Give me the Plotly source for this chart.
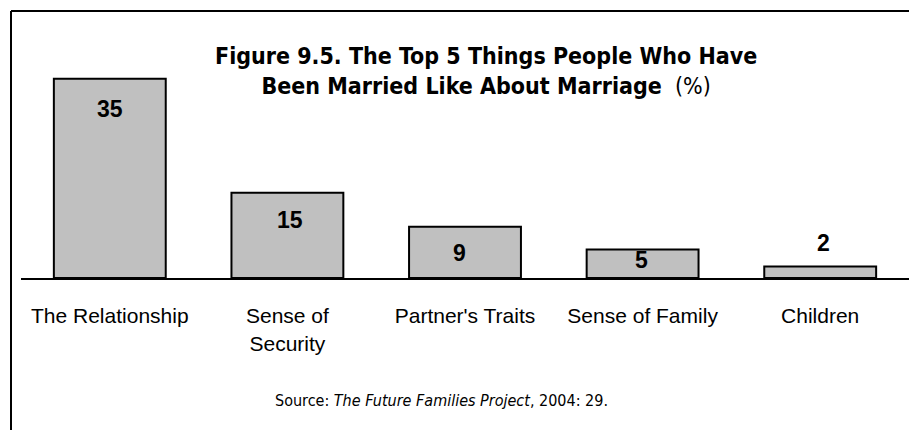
import plotly.graph_objects as go

categories = ["The Relationship", "Sense of<br>Security", "Partner's Traits", "Sense of Family", "Children"]
values = [35, 15, 9, 5, 2]
value_labels = ["35", "15", "9", "5", "2"]

title_line1 = "Figure 9.5. The Top 5 Things People Who Have"
title_line2 = "Been Married Like About Marriage"
source_text = "Source: <i>The Future Families Project</i>, 2004: 29."

# label offsets (pixels) relative to bar top
label_yshift = [-30, -27, -26, -10, 24]
label_xshift = [0, 3, -6, -1, 3]

W, H = 909, 430
ML, MR, MT, MB = 21, 0, 11, 152
plot_w = W - ML - MR
plot_h = H - MT - MB
px_per_unit = 5.69
ymax = plot_h / px_per_unit

NARROW = "DejaVu Sans Condensed, Liberation Sans Narrow, Arial Narrow, sans-serif"
SANS = "Liberation Sans, Arial, sans-serif"

fig = go.Figure()
fig.add_trace(go.Bar(
    x=categories, y=values,
    marker=dict(color="#c0c0c0", line=dict(color="black", width=2)),
    hoverinfo="skip",
))

for c, v, t, dy, dx in zip(categories, values, value_labels, label_yshift, label_xshift):
    fig.add_annotation(x=c, y=v, xref="x", yref="y", text="<b>%s</b>" % t,
                       showarrow=False, yanchor="middle", xanchor="center",
                       yshift=dy, xshift=dx,
                       font=dict(family=SANS, size=23, color="black"))

fig.add_annotation(x=(486 - ML) / plot_w, y=(H - MB - 41) / plot_h, xref="paper", yref="paper",
                   text="<b>%s</b><br><b>%s</b>  (%%)" % (title_line1, title_line2),
                   showarrow=False, xanchor="center", yanchor="top",
                   font=dict(family=NARROW, size=23, color="black"))

fig.add_annotation(x=(441 - ML) / plot_w, y=-(400 - (H - MB)) / plot_h, xref="paper", yref="paper",
                   text=source_text, showarrow=False, xanchor="center", yanchor="middle",
                   font=dict(family=NARROW, size=16, color="black"))

# frame lines (top and left)
bx = (11 - ML) / plot_w
fig.add_shape(type="line", xref="paper", yref="paper", x0=bx, y0=1, x1=1.05, y1=1,
              line=dict(color="black", width=2))
fig.add_shape(type="line", xref="paper", yref="paper", x0=bx, y0=1, x1=bx, y1=-1,
              line=dict(color="black", width=2))

fig.update_layout(
    width=W, height=H,
    margin=dict(l=ML, r=MR, t=MT, b=MB),
    plot_bgcolor="white", paper_bgcolor="white",
    bargap=0.37,
    showlegend=False,
    xaxis=dict(showline=True, linecolor="black", linewidth=2, ticks="outside",
               ticklen=18, tickcolor="rgba(0,0,0,0)",
               tickfont=dict(family=SANS, size=21, color="black"),
               showgrid=False, zeroline=False, fixedrange=True),
    yaxis=dict(range=[0, ymax], visible=False, showgrid=False, zeroline=False, fixedrange=True),
)

fig.write_html("out.html", config={"displayModeBar": False},
               post_script="document.body.style.margin='0';document.body.style.overflow='hidden';")
